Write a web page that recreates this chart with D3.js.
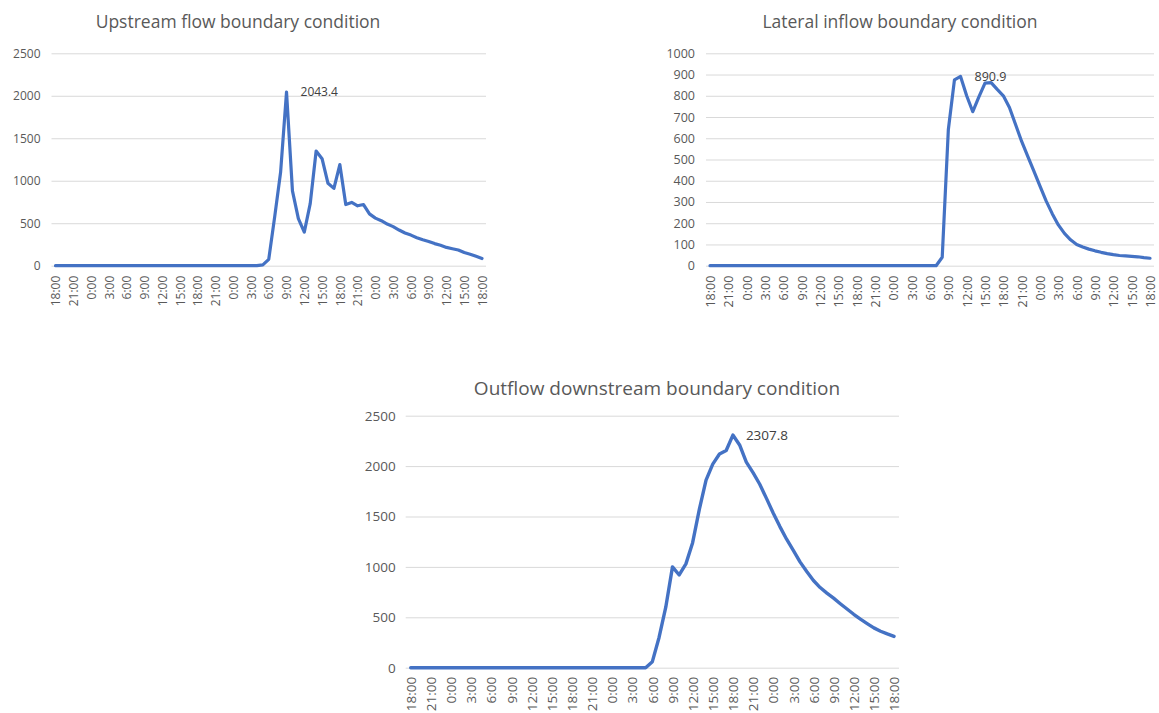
<!DOCTYPE html>
<html>
<head>
<meta charset="utf-8">
<script src="https://cdn.jsdelivr.net/npm/d3@7"></script>
<style>
  body { margin: 0; background: #ffffff; }
  svg { display: block; }
  text { font-family: "Open Sans", "Noto Sans", sans-serif; }
</style>
</head>
<body>
<svg id="chart" width="1159" height="713"></svg>
<script>
// Hourly time axis: 72 hours, labelled every 3 hours
const tickLabels = ["18:00","21:00","0:00","3:00","6:00","9:00","12:00","15:00",
  "18:00","21:00","0:00","3:00","6:00","9:00","12:00","15:00",
  "18:00","21:00","0:00","3:00","6:00","9:00","12:00","15:00","18:00"];

// Upstream inflow hydrograph (m3/s), hourly
const upstreamFlow = [
  0,0,0,0,0,0,0,0,0,0,0,0,0,0,0,0,0,0,0,0,0,0,0,0,0,0,0,0,0,0,0,0,0,0,0,
  10,75,575,1100,2043.4,880,555,395,730,1350,1260,970,910,1190,720,745,705,720,
  610,560,530,490,460,420,385,360,330,305,285,260,240,215,200,185,155,135,110,85
];

// Lateral inflow hydrograph (m3/s), hourly
const lateralInflow = [
  0,0,0,0,0,0,0,0,0,0,0,0,0,0,0,0,0,0,0,0,0,0,0,0,0,0,0,0,0,0,0,0,0,0,0,0,0,0,
  40,640,875,890.9,800,725,795,860,862,830,800,745,665,585,515,445,375,305,245,
  192,152,122,100,88,78,70,63,57,52,48,46,44,42,38,35
];

// Downstream outflow hydrograph (m3/s), hourly
const outflowDownstream = [
  0,0,0,0,0,0,0,0,0,0,0,0,0,0,0,0,0,0,0,0,0,0,0,0,0,0,0,0,0,0,0,0,0,0,0,0,
  60,300,600,1000,920,1030,1240,1570,1860,2020,2120,2155,2307.8,2210,2040,1935,
  1820,1680,1535,1400,1275,1165,1050,955,865,795,740,690,635,582,530,482,438,
  395,362,335,310
];

const upstreamTicks = [0, 500, 1000, 1500, 2000, 2500];
const lateralTicks = [0, 100, 200, 300, 400, 500, 600, 700, 800, 900, 1000];
const outflowTicks = [0, 500, 1000, 1500, 2000, 2500];

const svg = d3.select("#chart");
const lineColor = "#4472C4";
const gridColor = "#d9d9d9";
const textColor = "#595959";

function drawPanel(cfg) {
  const g = svg.append("g");
  const n = cfg.values.length;
  const x = d3.scaleLinear().domain([0, n - 1]).range([cfg.left, cfg.right]);
  const y = d3.scaleLinear().domain([0, d3.max(cfg.ticks)]).range([cfg.bottom, cfg.top]);

  // title
  g.append("text")
    .attr("x", cfg.titleX).attr("y", cfg.titleY)
    .attr("text-anchor", "middle")
    .attr("font-size", cfg.titleSize)
    .attr("fill", textColor)
    .text(cfg.title);

  // value axis with horizontal gridlines
  const gridW = cfg.right - cfg.left + 2 * cfg.gridPad;
  const yAxis = g.append("g")
    .attr("transform", `translate(${cfg.left - cfg.gridPad},0)`)
    .call(d3.axisLeft(y)
      .tickValues(cfg.ticks)
      .tickFormat(d3.format("d"))
      .tickSize(-gridW)
      .tickPadding(cfg.yPad));
  yAxis.select(".domain").remove();
  yAxis.selectAll(".tick line").attr("stroke", gridColor).attr("stroke-width", 1);
  yAxis.selectAll(".tick text")
    .attr("fill", textColor)
    .attr("font-size", cfg.fontSize)
    .attr("font-family", "\"Open Sans\", sans-serif");

  // category (time) axis with rotated labels
  const xAxis = g.append("g")
    .attr("transform", `translate(0,${cfg.bottom})`)
    .call(d3.axisBottom(x)
      .tickValues(d3.range(0, n, 3))
      .tickFormat((d, i) => tickLabels[i])
      .tickSize(0));
  xAxis.select(".domain").remove();
  xAxis.selectAll(".tick text")
    .attr("transform", "rotate(-90)")
    .attr("x", -cfg.xPad)
    .attr("y", 0)
    .attr("dy", "0.35em")
    .attr("text-anchor", "end")
    .attr("fill", textColor)
    .attr("font-size", cfg.fontSize)
    .attr("font-family", "\"Open Sans\", sans-serif");

  // hydrograph line
  const line = d3.line().x((d, i) => x(i)).y(d => y(d));
  g.append("path")
    .datum(cfg.values)
    .attr("fill", "none")
    .attr("stroke", lineColor)
    .attr("stroke-width", cfg.strokeW)
    .attr("stroke-linejoin", "round")
    .attr("stroke-linecap", "round")
    .attr("d", line);

  // peak value label
  const iMax = d3.maxIndex(cfg.values);
  const vMax = cfg.values[iMax];
  g.append("text")
    .attr("x", x(iMax) + cfg.labelOffset)
    .attr("y", y(vMax))
    .attr("dy", "0.35em")
    .attr("font-size", cfg.fontSize)
    .attr("fill", "#404040")
    .text(d3.format(".1f")(vMax));
}

drawPanel({
  title: "Upstream flow boundary condition",
  values: upstreamFlow, ticks: upstreamTicks,
  left: 55.5, right: 482, top: 53.3, bottom: 265.7,
  gridPad: 4, yPad: 11, xPad: 10,
  titleX: 238, titleY: 28, titleSize: 17.5,
  fontSize: 12, strokeW: 3.2, labelOffset: 14
});

drawPanel({
  title: "Lateral inflow boundary condition",
  values: lateralInflow, ticks: lateralTicks,
  left: 710, right: 1150, top: 53.3, bottom: 265.7,
  gridPad: 4, yPad: 11, xPad: 10,
  titleX: 900, titleY: 28, titleSize: 17.5,
  fontSize: 12.5, strokeW: 3.2, labelOffset: 14
});

drawPanel({
  title: "Outflow downstream boundary condition",
  values: outflowDownstream, ticks: outflowTicks,
  left: 410.7, right: 894, top: 415.7, bottom: 667.7,
  gridPad: 5, yPad: 10, xPad: 9,
  titleX: 657, titleY: 395, titleSize: 19,
  fontSize: 13.5, strokeW: 3.4, labelOffset: 13
});
</script>
</body>
</html>
